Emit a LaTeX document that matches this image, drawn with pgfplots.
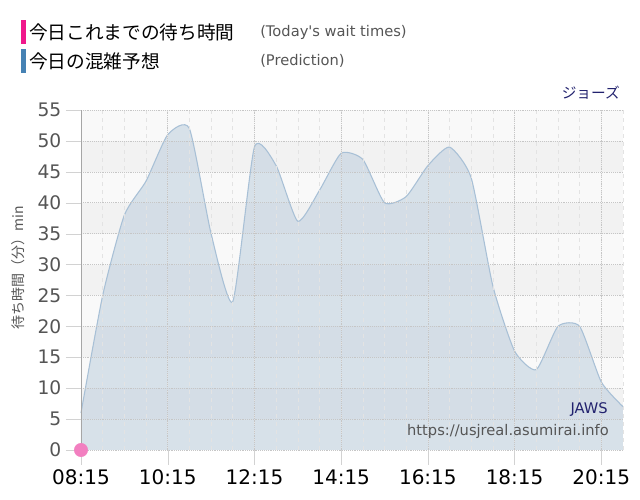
\documentclass[border=0pt]{standalone}
\usepackage{pgfplots}
\pgfplotsset{compat=1.18}
\usepackage{fontspec}
\setmainfont{DejaVu Sans}
\newfontfamily\jp{Noto Sans CJK JP}
\newfontfamily\plainen{DejaVu Sans}[Ligatures=TeXOff]

\definecolor{pinkbar}{HTML}{F0188C}
\definecolor{pinkdot}{HTML}{F27FC0}
\definecolor{bluebar}{HTML}{4682B4}
\definecolor{navy}{HTML}{22226E}
\definecolor{txtgray}{HTML}{555555}
\definecolor{areafill}{HTML}{B7CADB}
\definecolor{arealine}{HTML}{A8C0D6}
\definecolor{bandlight}{HTML}{F9F9F9}
\definecolor{banddark}{HTML}{F2F2F2}

% prediction, one value every 30 min, x = 15-min slots from 08:15
\pgfplotstableread{
x y
0 6
2 25
4 38
6 43.5
8 51
10 52
12 35
14 24
16 49
18 46
20 37
22 42
24 48
26 47
28 40
30 41
32 46
34 49
36 44
38 26.5
40 16
42 13
44 20
46 20
48 11
50 7
}\prediction

\begin{document}
\begin{tikzpicture}
\begin{axis}[
    at={(60.75pt,37.5pt)}, anchor=south west,
    scale only axis, width=406.5pt, height=255pt,
    axis on top, clip=false,
    xmin=0, xmax=50, ymin=0, ymax=55,
    axis y line*=left, axis x line*=bottom,
    x axis line style={draw=none},
    y axis line style={draw=gray!70},
    xtick={0,8,...,48},
    xticklabels={08:15,10:15,12:15,14:15,16:15,18:15,20:15},
    minor xtick={2,4,...,50},
    ytick={0,5,...,55},
    tick align=outside,
    major tick length=11.25pt, minor tick length=0pt,
    tick style={draw=gray!35},
    xmajorgrids, ymajorgrids, xminorgrids,
    major grid style={densely dotted, draw=gray!45},
    minor grid style={dashed, draw=gray!22},
    /pgf/number format/assume math mode=true,
    yticklabel style={text=txtgray, font=\fontsize{14pt}{16pt}\selectfont},
    xticklabel style={text=black, font=\fontsize{15pt}{17pt}\selectfont},
]
\fill[bandlight] (axis cs:0,0) rectangle (axis cs:50,55);
\fill[banddark] (axis cs:0,5) rectangle (axis cs:50,10);
\fill[banddark] (axis cs:0,15) rectangle (axis cs:50,20);
\fill[banddark] (axis cs:0,25) rectangle (axis cs:50,30);
\fill[banddark] (axis cs:0,35) rectangle (axis cs:50,40);
\fill[banddark] (axis cs:0,45) rectangle (axis cs:50,50);

\addplot[smooth, tension=0.35, draw=none,
         fill=areafill, fill opacity=0.5] table[x=x, y=y] {\prediction} \closedcycle;
\addplot[smooth, tension=0.35, draw=arealine, line width=0.8pt]
    table[x=x, y=y] {\prediction};

\addplot[only marks, mark=*, mark size=5pt, color=pinkdot,
         mark options={draw=pinkdot, fill=pinkdot}]
    coordinates {(0,0)};
\end{axis}

% legend
\fill[pinkbar] (15.75pt,342pt) rectangle (19.5pt,360pt);
\fill[bluebar] (15.75pt,320.25pt) rectangle (19.5pt,338.25pt);
\node[anchor=west, inner sep=0pt, font=\jp\fontsize{14pt}{16pt}\selectfont] at (21.75pt,351pt) {今日これまでの待ち時間};
\node[anchor=west, inner sep=0pt, font=\jp\fontsize{14pt}{16pt}\selectfont] at (21.75pt,329.25pt) {今日の混雑予想};
\node[anchor=west, inner sep=0pt, text=txtgray, font=\plainen\fontsize{11pt}{13pt}\selectfont] at (195pt,351pt) {(Today's wait times)};
\node[anchor=west, inner sep=0pt, text=txtgray, font=\fontsize{11pt}{13pt}\selectfont] at (195pt,329.25pt) {(Prediction)};

\node[anchor=east, inner sep=0pt, text=navy, font=\jp\fontsize{11pt}{13pt}\selectfont] at (465pt,305.25pt) {ジョーズ};

\node[rotate=90, inner sep=0pt, text=txtgray, font=\jp\fontsize{10.5pt}{12pt}\selectfont] at (13.5pt,174pt) {待ち時間（分）min};

\node[anchor=east, inner sep=0pt, text=navy, font=\fontsize{11pt}{13pt}\selectfont] at (456pt,67.5pt) {JAWS};
\node[anchor=east, inner sep=0pt, text=txtgray, font=\fontsize{11pt}{13pt}\selectfont] at (456.75pt,51.75pt) {https://usjreal.asumirai.info};

\path[use as bounding box] (0,0) rectangle (480pt,375pt);
\end{tikzpicture}
\end{document}
